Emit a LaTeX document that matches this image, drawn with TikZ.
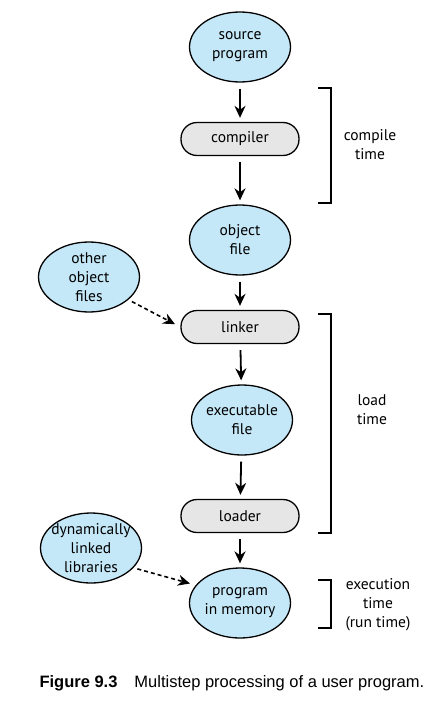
\documentclass[tikz,border=0pt]{standalone}
\usepackage{fontspec}
\setmainfont{PT Sans}
\newfontfamily\capfont{Liberation Sans}
\usetikzlibrary{shapes.geometric,arrows.meta}

\definecolor{fileblue}{RGB}{197,232,248}
\definecolor{stepgray}{RGB}{230,230,230}

\tikzstyle{file}=[ellipse,draw,line width=1.3pt,fill=fileblue,minimum width=101pt,minimum height=70pt,inner sep=-6pt,align=center,font=\fontsize{15.5}{19}\selectfont]
\tikzstyle{stepbox}=[rectangle,rounded corners=16pt,draw,line width=1.3pt,fill=stepgray,minimum width=118pt,minimum height=33pt,inner sep=0pt,font=\fontsize{15.5}{19}\selectfont]
\tikzstyle{edge}=[draw,line width=1.8pt,-{Stealth[length=12pt,width=11pt]},shorten <=6pt,shorten >=4pt]
\tikzstyle{optional edge}=[draw,line width=1.6pt,dash pattern=on 4pt off 3pt,-{Stealth[length=12pt,width=11pt]},shorten <=4pt,shorten >=6pt]
\tikzstyle{bracket}=[draw,line width=1.3pt]
\tikzstyle{phase}=[align=center,font=\fontsize{15.5}{19}\selectfont]

\begin{document}
\begin{tikzpicture}[x=1pt,y=-1pt]
     \useasboundingbox (0,0) rectangle (447,707);
     % First we draw the files
     \foreach \pos/\name/\text in {{(240,47)/src/{source\\program}}, {(240,240)/obj/{object\\file}},
       {(89,277)/other/{other\\object\\files}}, {(242,420)/exe/{executable\\file}},
       {(240,603)/mem/{program\\in memory}}, {(91,548)/dll/{dynamically\\linked\\libraries}}}
     \node[file] (\name) at \pos {\text};

     % then the processing steps
     \foreach \pos/\name in {{(240,139)/compiler}, {(240,327)/linker}, {(240,516)/loader}}
     \node[stepbox] (\name) at \pos {\name};

     % Connect them
     \foreach \source/ \dest in {src/compiler, compiler/obj, obj/linker, linker/exe, exe/loader, loader/mem}
     \path[edge] (\source) -- (\dest);

     \path[optional edge] (other.-30) -- (linker.west);
     \path[optional edge] (dll.-25) -- (mem.158);

     % Brackets for the phases
     \path[bracket] (318,88) -- (331,88) -- (331,203) -- (318,203);
     \path[bracket] (318,314) -- (331,314) -- (331,533) -- (318,533);
     \path[bracket] (318,580) -- (331,580) -- (331,628) -- (318,628);
     \node[phase] (compile) at (370,145) {compile\\time};
     \node[phase] (load) at (372,410) {load\\time};
     \node[phase] (exec) at (378,605) {execution\\time\\(run time)};

     \node[anchor=west,font=\capfont\fontsize{16.5}{19}\selectfont] (caption) at (36,683)
       {{\bfseries Figure 9.3}\hspace{17pt}Multistep processing of a user program.};
\end{tikzpicture}
\end{document}
